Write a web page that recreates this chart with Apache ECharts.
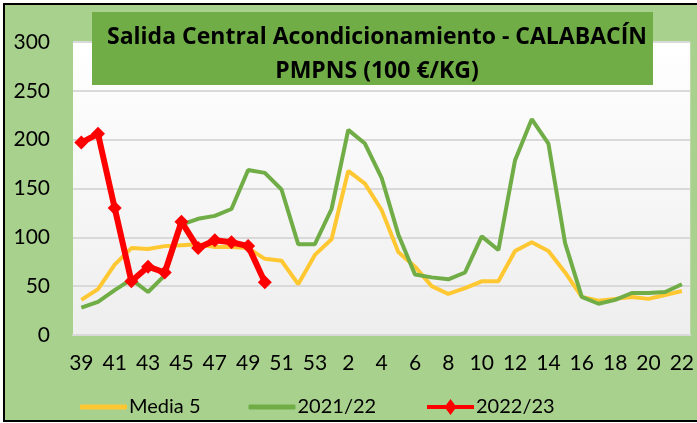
<!DOCTYPE html>
<html>
<head>
<meta charset="utf-8">
<script src="https://cdn.jsdelivr.net/npm/echarts@6/dist/echarts.min.js"></script>
<style>
    html, body { margin: 0; padding: 0; background: #fff; }
    #chart_calabacin { width: 697px; height: 423px; }
</style>
</head>
<body>
<div id="chart_calabacin"></div>
<script>

// Data
// ------------------------------

var weeks = ['39','40','41','42','43','44','45','46','47','48','49','50','51','52','53',
    '1','2','3','4','5','6','7','8','9','10','11','12','13','14','15','16','17','18','19','20','21','22'];

var media5 = [36, 47, 72, 89, 88, 91, 92, 93, 90, 90, 89, 78, 76, 52, 82,
    98, 168, 155, 128, 85, 70, 50, 42, 48, 55, 55, 86, 95, 86, 64, 39, 35, 37, 39, 37, 41, 45];

var season2122 = [28, 34, 46, 57, 44, 61, 113, 119, 122, 129, 169, 166, 149, 93, 93,
    129, 210, 196, 161, 103, 62, 59, 57, 64, 101, 87, 179, 221, 196, 94, 39, 32, 36, 43, 43, 44, 52];

var season2223 = [197, 206, 130, 55, 70, 64, 116, 89, 97, 95, 91, 54];

var yTicks = { min: 0, max: 300, interval: 50 };


// Setup module
// ------------------------------

var EchartsCalabacin = function() {

    var _calabacinChart = function() {
        if (typeof echarts == 'undefined') {
            console.warn('Warning - echarts.min.js is not loaded.');
            return;
        }

        var element = document.getElementById('chart_calabacin');
        if (!element) return;

        var chart = echarts.init(element);

        var fontFamily = 'Lato, "Open Sans", sans-serif';

        // Legend text
        var legendText = {
            fontFamily: fontFamily,
            fontSize: 20,
            color: '#000',
            padding: [0, 0, 0, -3]
        };

        // Line + diamond marker, like the Excel legend key
        var diamondLineIcon = 'path://M0,6 L19,6 L23.5,0 L28,6 L47,6 L47,10 L28,10 L23.5,16 L19,10 L0,10 Z';

        chart.setOption({

            backgroundColor: '#ffffff',
            animation: false,

            textStyle: {
                fontFamily: fontFamily,
                color: '#000'
            },

            // Frame + title box
            graphic: [
                {
                    type: 'rect',
                    z: -10,
                    shape: { x: 4, y: 4, width: 700, height: 417 },
                    style: { fill: '#a9d18e', stroke: '#000', lineWidth: 2 }
                },
                {
                    type: 'rect',
                    z: 50,
                    shape: { x: 92, y: 12, width: 561, height: 73 },
                    style: { fill: '#70ad47' }
                }
            ],

            title: {
                text: 'Salida Central Acondicionamiento - CALABACÍN\nPMPNS (100 €/KG)',
                left: 372,
                top: 15,
                textAlign: 'center',
                z: 60,
                textStyle: {
                    fontFamily: '"Open Sans", sans-serif',
                    fontSize: 23,
                    fontWeight: 'bold',
                    color: '#000',
                    lineHeight: 34,
                    align: 'center'
                }
            },

            grid: {
                left: 73,
                right: 3,
                top: 42,
                bottom: 88,
                show: true,
                borderWidth: 0,
                backgroundColor: new echarts.graphic.LinearGradient(0, 0, 0, 1, [
                    { offset: 0, color: '#ffffff' },
                    { offset: 1, color: '#eeeeee' }
                ])
            },

            // Two legends so that the plain lines and the marker line get their own keys
            legend: [
                {
                    left: 75,
                    top: 392,
                    itemWidth: 47,
                    itemHeight: 5,
                    itemGap: 48,
                    icon: 'roundRect',
                    textStyle: legendText,
                    data: ['Media 5', '2021/22']
                },
                {
                    left: 422,
                    top: 392,
                    itemWidth: 47,
                    itemHeight: 16,
                    icon: diamondLineIcon,
                    textStyle: legendText,
                    data: ['2022/23']
                }
            ],

            xAxis: {
                type: 'category',
                boundaryGap: true,
                data: weeks,
                axisLine: { show: true, lineStyle: { color: '#d9d9d9', width: 2 } },
                axisTick: { show: false },
                axisLabel: {
                    interval: 1,
                    fontSize: 21,
                    color: '#000',
                    margin: 18
                }
            },

            yAxis: {
                type: 'value',
                min: yTicks.min,
                max: yTicks.max,
                interval: yTicks.interval,
                axisLine: { show: false },
                axisTick: { show: false },
                axisLabel: {
                    fontSize: 21,
                    color: '#000',
                    margin: 23
                },
                splitLine: {
                    show: true,
                    lineStyle: { color: '#d9d9d9', width: 2 }
                }
            },

            series: [
                {
                    name: 'Media 5',
                    type: 'line',
                    data: media5,
                    symbol: 'none',
                    z: 2,
                    lineStyle: { color: '#ffc832', width: 4 },
                    itemStyle: { color: '#ffc832' }
                },
                {
                    name: '2021/22',
                    type: 'line',
                    data: season2122,
                    symbol: 'none',
                    z: 3,
                    lineStyle: { color: '#70ad47', width: 4 },
                    itemStyle: { color: '#70ad47' }
                },
                {
                    name: '2022/23',
                    type: 'line',
                    data: season2223,
                    symbol: 'diamond',
                    symbolSize: 14,
                    showAllSymbol: true,
                    z: 4,
                    lineStyle: { color: '#ff0000', width: 6 },
                    itemStyle: { color: '#ff0000' }
                }
            ]
        });
    };

    return {
        init: function() {
            _calabacinChart();
        }
    }
}();

document.addEventListener('DOMContentLoaded', function() {
    EchartsCalabacin.init();
});
</script>
</body>
</html>
